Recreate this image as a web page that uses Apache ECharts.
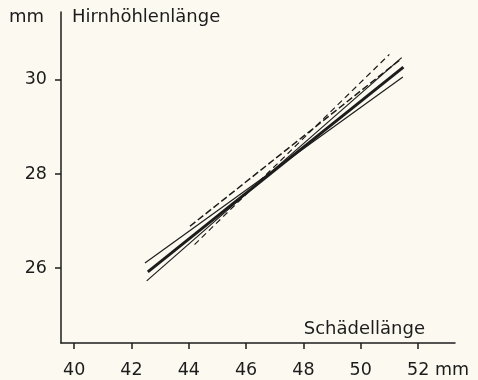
<!DOCTYPE html>
<html>
<head>
<meta charset="utf-8">
<script src="https://cdn.jsdelivr.net/npm/echarts@6/dist/echarts.min.js"></script>
<style>
html,body{margin:0;padding:0;background:#fcf9f0;}
#c{width:478px;height:380px;}
</style>
</head>
<body>
<div id="c"></div>
<script>
// Tick values
const xTicks = [40, 42, 44, 46, 48, 50, 52];
const yTicks = [26, 28, 30];
// Regression lines [Schädellänge, Hirnhöhlenlänge]
const lineThinFlat = [[42.47, 26.11], [51.47, 30.06]];
const lineThick = [[42.57, 25.92], [51.49, 30.27]];
const lineThinSteep = [[42.53, 25.73], [51.43, 30.47]];
const lineDashedThin = [[44.20, 26.50], [51.00, 30.54]];
const lineDashedThick = [[44.04, 26.89], [51.40, 30.44]];

const ink = '#1c1c1c';
const font = 'DejaVu Sans';
const chart = echarts.init(document.getElementById('c'), null, {renderer: 'canvas'});
function mk(name, data, width, type) {
  return {
    name: name, type: 'line', data: data, symbol: 'none', silent: true,
    lineStyle: {color: ink, width: width, type: type, cap: 'butt'}
  };
}
chart.setOption({
  backgroundColor: '#fcf9f0',
  animation: false,
  grid: {left: 61, right: 23, top: 12, bottom: 37},
  xAxis: {
    type: 'value', min: 39.54, max: 53.29,
    name: 'Schädellänge', nameLocation: 'end', nameGap: -30,
    nameTextStyle: {fontFamily: font, fontSize: 18, color: ink, align: 'right', verticalAlign: 'bottom', padding: [0, 0, 5, 0]},
    axisLine: {show: true, lineStyle: {color: ink, width: 1.5}},
    axisTick: {show: true, customValues: xTicks, length: 6, lineStyle: {color: ink, width: 1.5}},
    splitLine: {show: false},
    axisLabel: {
      customValues: xTicks, margin: 18, fontFamily: font, fontSize: 17.5, color: ink,
      formatter: function (v) { return v === 52 ? '{p|}52 mm' : String(v); },
      rich: {p: {width: 40}}
    }
  },
  yAxis: {
    type: 'value', min: 24.41, max: 31.44,
    name: 'Hirnhöhlenlänge', nameLocation: 'end', nameGap: -5,
    nameTextStyle: {fontFamily: font, fontSize: 18, color: ink, align: 'left', verticalAlign: 'middle', padding: [0, 0, 0, 11]},
    axisLine: {show: true, lineStyle: {color: ink, width: 1.5}},
    axisTick: {show: true, customValues: yTicks, length: 6, lineStyle: {color: ink, width: 1.5}},
    splitLine: {show: false},
    axisLabel: {customValues: yTicks, margin: 14, fontFamily: font, fontSize: 17.5, color: ink}
  },
  graphic: [{
    type: 'text', x: 9, y: 17,
    style: {text: 'mm', fontFamily: font, fontSize: 18, fill: ink, verticalAlign: 'middle'}
  }],
  series: [
    mk('A', lineThinFlat, 1.2, 'solid'),
    mk('C', lineThinSteep, 1.2, 'solid'),
    mk('D', lineDashedThin, 1.2, [6, 4]),
    mk('E', lineDashedThick, 1.5, [7, 3]),
    mk('B', lineThick, 3, 'solid')
  ]
});
</script>
</body>
</html>
